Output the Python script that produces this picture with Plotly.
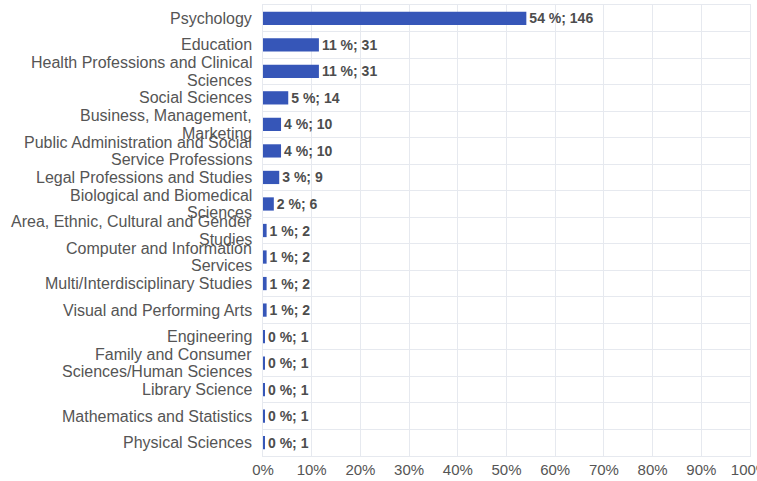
import plotly.graph_objects as go

CATEGORIES = [
    "Psychology",
    "Education",
    "Health Professions and Clinical<br>Sciences",
    "Social Sciences",
    "Business, Management,<br>Marketing",
    "Public Administration and Social<br>Service Professions",
    "Legal Professions and Studies",
    "Biological and Biomedical<br>Sciences",
    "Area, Ethnic, Cultural and Gender<br>Studies",
    "Computer and Information<br>Services",
    "Multi/Interdisciplinary Studies",
    "Visual and Performing Arts",
    "Engineering",
    "Family and Consumer<br>Sciences/Human Sciences",
    "Library Science",
    "Mathematics and Statistics",
    "Physical Sciences",
]
COUNTS = [146, 31, 31, 14, 10, 10, 9, 6, 2, 2, 2, 2, 1, 1, 1, 1, 1]
X_TICKS = [0, 10, 20, 30, 40, 50, 60, 70, 80, 90, 100]

LABEL_COLOR = "#555555"
GRID_COLOR = "#e6e9ef"

total = sum(COUNTS)
shares = [c / total * 100 for c in COUNTS]
labels = [f"{round(s)} %; {c}" for s, c in zip(shares, COUNTS)]

fig = go.Figure(
    go.Bar(
        x=shares,
        y=CATEGORIES,
        orientation="h",
        marker=dict(color="#3656b8", line=dict(width=0)),
        text=labels,
        textposition="outside",
        constraintext="none",
        textfont=dict(family="Liberation Sans", size=14, color="#4d4d4d", weight="bold"),
        cliponaxis=False,
    )
)

# category labels drawn line by line so the line spacing stays tight
for cat in CATEGORIES:
    lines = cat.split("<br>")
    n = len(lines)
    for i, line in enumerate(lines):
        fig.add_annotation(
            x=0,
            xref="paper",
            y=cat,
            yref="y",
            text=line,
            showarrow=False,
            xanchor="right",
            yanchor="middle",
            xshift=-9,
            yshift=(n - 1) / 2 * 17.5 - i * 17.5,
            font=dict(family="Liberation Sans", size=16, color=LABEL_COLOR),
        )

fig.update_layout(
    width=757,
    height=481,
    margin=dict(l=263, r=7, t=5, b=25),
    plot_bgcolor="white",
    paper_bgcolor="white",
    bargap=0.5,
    showlegend=False,
    font=dict(family="Liberation Sans", size=15, color=LABEL_COLOR),
)

fig.update_xaxes(
    range=[0, 100],
    tickvals=X_TICKS,
    ticktext=[f"{t}%" for t in X_TICKS],
    ticklabeloverflow="allow",
    automargin=False,
    showgrid=True,
    gridcolor=GRID_COLOR,
    zeroline=False,
    showline=True,
    linecolor=GRID_COLOR,
    mirror=True,
    tickfont=dict(size=15, color=LABEL_COLOR),
)

fig.update_yaxes(
    autorange="reversed",
    tickson="boundaries",
    showticklabels=False,
    automargin=False,
    showgrid=True,
    gridcolor=GRID_COLOR,
    showline=True,
    linecolor=GRID_COLOR,
    mirror=True,
)

fig.write_html(
    "out.html",
    config={"responsive": False, "displayModeBar": False},
    post_script="document.body.style.margin='0';document.body.style.overflow='hidden';",
)
